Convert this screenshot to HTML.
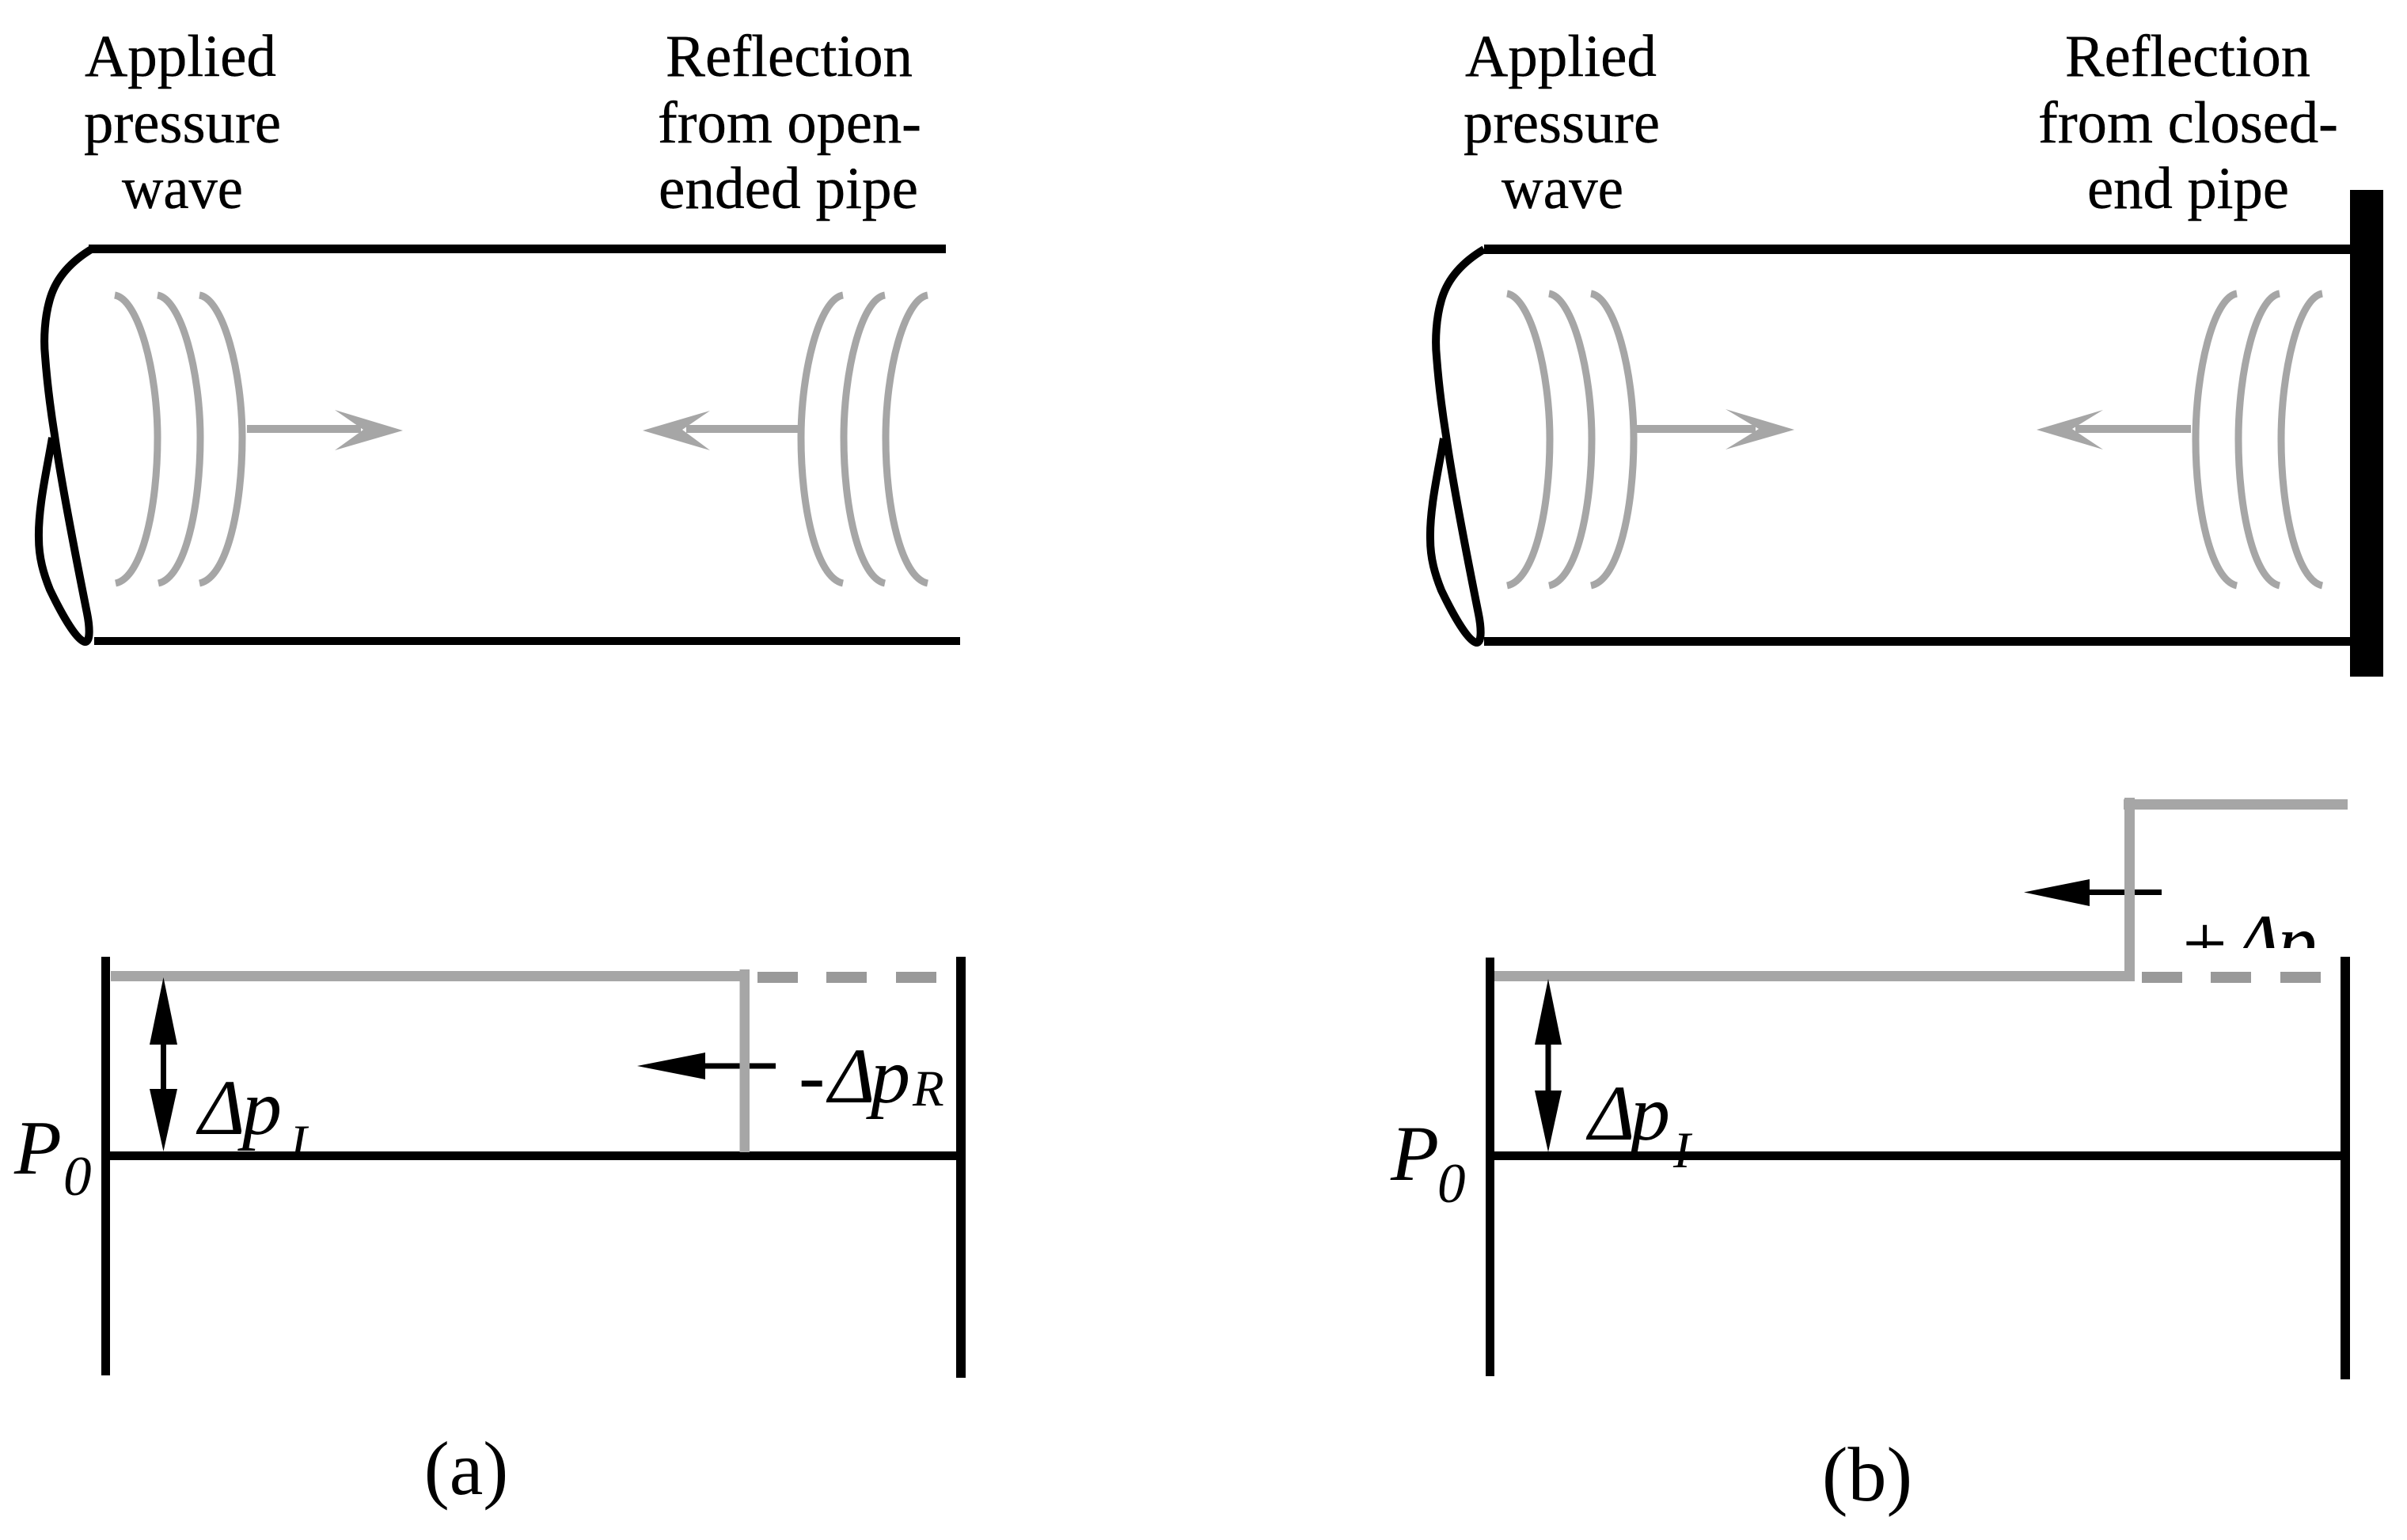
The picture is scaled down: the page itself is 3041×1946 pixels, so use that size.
<!DOCTYPE html>
<html>
<head>
<meta charset="utf-8">
<style>
html,body{margin:0;padding:0;background:#fff;width:3041px;height:1946px;overflow:hidden}
svg{display:block}
text{font-family:"Liberation Serif",serif;fill:#000}
.t{font-size:75px;stroke:#000;stroke-width:.4}
.i{font-style:italic}
.g{fill:none;stroke:#a6a6a6;stroke-width:9}
.k{fill:none;stroke:#000;stroke-width:10}
</style>
</head>
<body>
<svg xmlns="http://www.w3.org/2000/svg" width="3041" height="1946" viewBox="0 0 3041 1946">
<defs>
<clipPath id="c1"><rect x="2740" y="1120" width="220" height="78"/></clipPath>
<clipPath id="c2"><rect x="240" y="1280" width="200" height="176"/></clipPath>
<path id="curve" d="M117 314 C90 330 72 350 64 375 C56 400 55 430 57 450 C60 490 65 525 69 550 C76 600 95 700 110 775 C113 790 115 812 107 811 C95 808 75 770 63 745 C55 725 49 705 49 680 C48 640 60 590 66 553"/>
</defs>
<rect width="3041" height="1946" fill="#fff"/>

<!-- Panel a labels -->
<text class="t" x="107" y="96" textLength="242" lengthAdjust="spacingAndGlyphs">Applied</text>
<text class="t" x="106" y="180" textLength="249" lengthAdjust="spacingAndGlyphs">pressure</text>
<text class="t" x="154" y="263" textLength="153" lengthAdjust="spacingAndGlyphs">wave</text>
<text class="t" x="841" y="96" textLength="312" lengthAdjust="spacingAndGlyphs">Reflection</text>
<text class="t" x="831" y="180" textLength="333" lengthAdjust="spacingAndGlyphs">from open-</text>
<text class="t" x="832" y="263" textLength="328" lengthAdjust="spacingAndGlyphs">ended pipe</text>

<!-- Panel a pipe -->
<rect x="112" y="309" width="1083" height="11"/>
<rect x="119" y="805" width="1094" height="10"/>
<use href="#curve" class="k"/>
<g class="g">
<path d="M145 373 C175 378 199 470 199 553 C199 640 180 730 146 737"/>
<path d="M199 373 C229 378 253 470 253 553 C253 640 234 730 200 737"/>
<path d="M252 373 C282 378 306 470 306 553 C306 640 287 730 252 737"/>
<path d="M1065 373 C1035 378 1012 470 1012 553 C1012 640 1031 730 1065 737"/>
<path d="M1118 373 C1088 378 1066 470 1066 553 C1066 640 1085 730 1118 737"/>
<path d="M1172 373 C1142 378 1119 470 1119 553 C1119 640 1138 730 1172 737"/>
</g>
<rect x="312" y="537" width="144" height="10" fill="#a6a6a6"/>
<polygon points="423,518 509,544 423,569 459,543" fill="#a6a6a6"/>
<rect x="867" y="537" width="145" height="10" fill="#a6a6a6"/>
<polygon points="897,519 812,544 897,569 862,543" fill="#a6a6a6"/>

<!-- Panel b labels -->
<text class="t" x="1851" y="96" textLength="242" lengthAdjust="spacingAndGlyphs">Applied</text>
<text class="t" x="1849" y="180" textLength="248" lengthAdjust="spacingAndGlyphs">pressure</text>
<text class="t" x="1897" y="263" textLength="154" lengthAdjust="spacingAndGlyphs">wave</text>
<text class="t" x="2609" y="96" textLength="310" lengthAdjust="spacingAndGlyphs">Reflection</text>
<text class="t" x="2575" y="180" textLength="379" lengthAdjust="spacingAndGlyphs">from closed-</text>
<text class="t" x="2637" y="263" textLength="255" lengthAdjust="spacingAndGlyphs">end pipe</text>

<!-- Panel b pipe -->
<rect x="1875" y="309" width="1095" height="12"/>
<rect x="1875" y="805" width="1095" height="11"/>
<rect x="2969" y="240" width="42" height="615"/>
<use href="#curve" class="k" transform="translate(1758,1)"/>
<g class="g">
<path d="M1904 371 C1934 376 1958 470 1958 555 C1958 642 1939 733 1904 740"/>
<path d="M1957 371 C1987 376 2011 470 2011 555 C2011 642 1992 733 1957 740"/>
<path d="M2010 371 C2040 376 2064 470 2064 555 C2064 642 2045 733 2010 740"/>
<path d="M2826 371 C2796 376 2774 470 2774 555 C2774 642 2793 733 2826 740"/>
<path d="M2880 371 C2850 376 2828 470 2828 555 C2828 642 2847 733 2880 740"/>
<path d="M2934 371 C2904 376 2882 470 2882 555 C2882 642 2901 733 2934 740"/>
</g>
<rect x="2068" y="537" width="150" height="10" fill="#a6a6a6"/>
<polygon points="2180,517 2267,543 2180,568 2222,542" fill="#a6a6a6"/>
<rect x="2622" y="537" width="146" height="10" fill="#a6a6a6"/>
<polygon points="2657,518 2573,543 2657,568 2618,542" fill="#a6a6a6"/>

<!-- Panel a graph -->
<text class="i" x="18" y="1483" font-size="98">P</text>
<text class="i" x="80" y="1510" font-size="71">0</text>
<g clip-path="url(#c2)">
<text class="i" x="251" y="1433" font-size="100">Δ</text>
<text class="i" x="306" y="1433" font-size="100">p</text>
<text class="i" x="366" y="1466" font-size="65">I</text>
</g>
<rect x="128" y="1209" width="11" height="529"/>
<rect x="1208" y="1209" width="12" height="532"/>
<rect x="134" y="1455" width="1080" height="11"/>
<rect x="140" y="1227" width="806" height="13" fill="#a6a6a6"/>
<rect x="957" y="1228" width="51" height="14" fill="#999"/>
<rect x="1044" y="1228" width="51" height="14" fill="#999"/>
<rect x="1132" y="1228" width="51" height="14" fill="#999"/>
<polygon points="206.500,1235 224,1320 189,1320" fill="#000"/>
<rect x="203" y="1318" width="7" height="60"/>
<polygon points="206.500,1455 224,1376 189,1376" fill="#000"/>
<rect x="885" y="1343.500" width="95" height="7"/>
<polygon points="805,1347 891,1330 891,1364" fill="#000"/>
<rect x="934.500" y="1225" width="12.500" height="231" fill="#a6a6a6"/>
<text x="1009" y="1393" font-size="100" class="i">-</text>
<text x="1047" y="1393" font-size="100" class="i">Δ</text>
<text x="1100" y="1393" font-size="100" class="i">p</text>
<text x="1153" y="1397" font-size="65" class="i">R</text>
<text x="589" y="1888" font-size="96" text-anchor="middle">(a)</text>

<!-- Panel b graph -->
<text class="i" x="1757" y="1491" font-size="100">P</text>
<text class="i" x="1816" y="1519" font-size="71">0</text>
<text class="i" x="2007" y="1440" font-size="100">Δ</text>
<text class="i" x="2060" y="1440" font-size="100">p</text>
<text class="i" x="2114" y="1475" font-size="65">I</text>
<rect x="1877" y="1210" width="11" height="529"/>
<rect x="2957" y="1209" width="12" height="534"/>
<rect x="1882" y="1455" width="1080" height="11"/>
<rect x="1888" y="1227" width="809" height="13" fill="#a6a6a6"/>
<rect x="2706" y="1228" width="51" height="14" fill="#999"/>
<rect x="2793" y="1228" width="51" height="14" fill="#999"/>
<rect x="2881" y="1228" width="51" height="14" fill="#999"/>
<polygon points="1956,1237 1973,1320 1939,1320" fill="#000"/>
<rect x="1952.500" y="1318" width="7" height="62"/>
<polygon points="1956,1456 1973,1378 1939,1378" fill="#000"/>
<rect x="2635" y="1124" width="96" height="7"/>
<polygon points="2557,1127.500 2640,1111 2640,1145" fill="#000"/>
<rect x="2684" y="1008" width="13" height="232" fill="#a6a6a6"/>
<rect x="2683" y="1010" width="283" height="13" fill="#a6a6a6"/>
<g clip-path="url(#c1)">
<text x="2751" y="1225" font-size="100" class="i">+</text>
<text x="2823" y="1224" font-size="100" class="i">Δ</text>
<text x="2877" y="1224" font-size="100" class="i">p</text>
</g>
<text x="2359" y="1896" font-size="98" text-anchor="middle">(b)</text>
</svg>
</body>
</html>
